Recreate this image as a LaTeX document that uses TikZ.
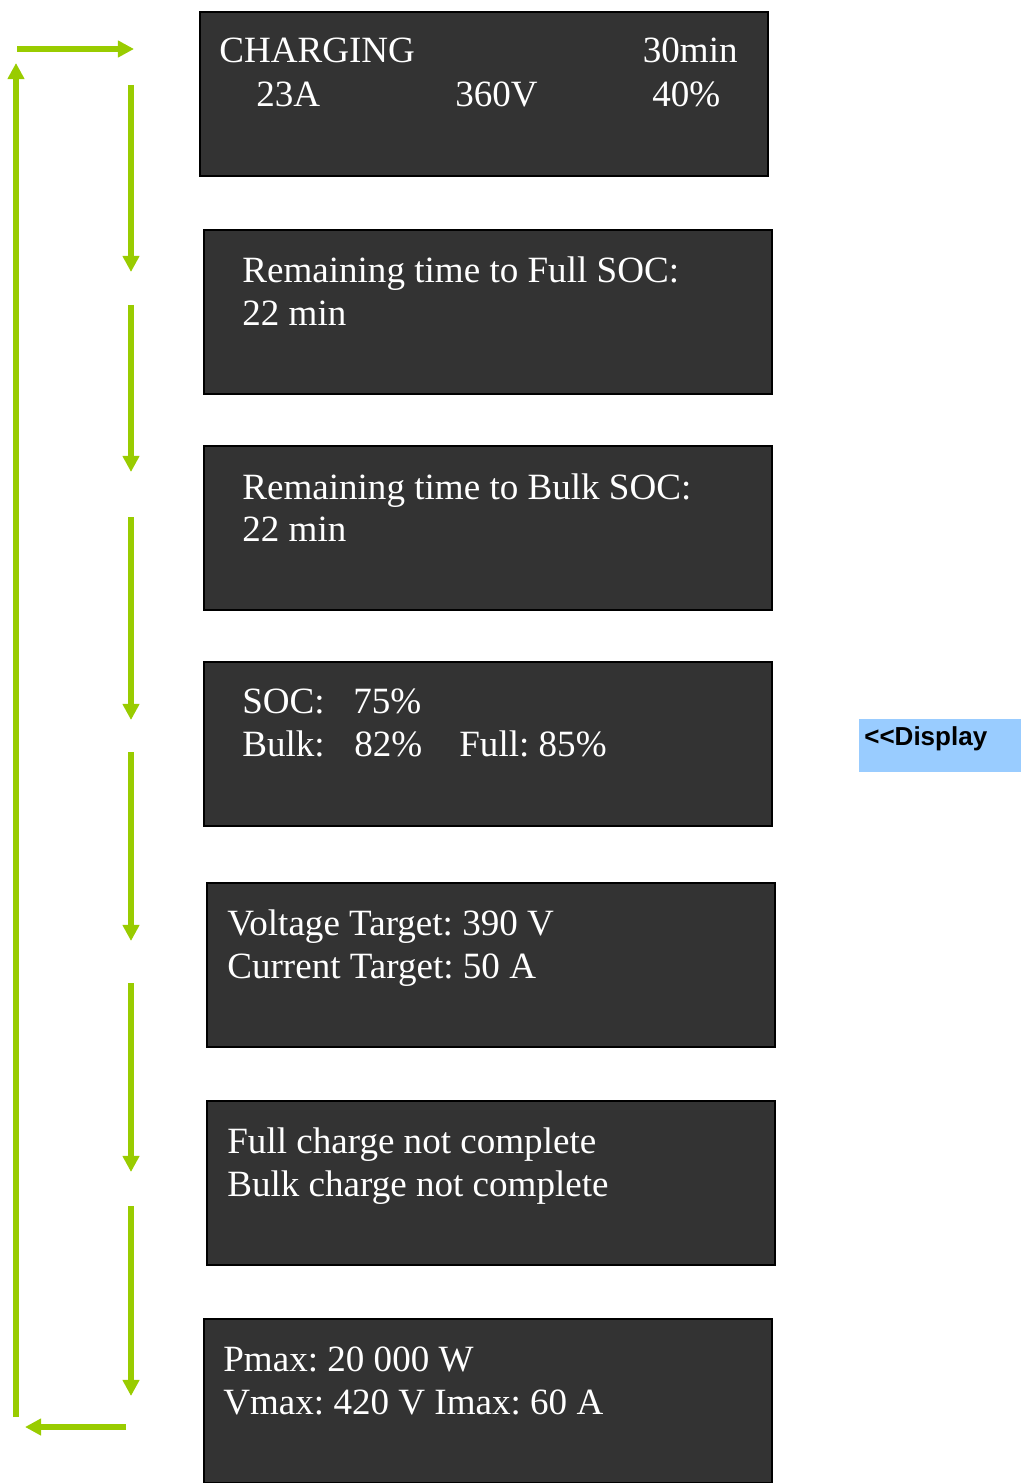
\documentclass[tikz,border=0pt]{standalone}
\usepackage{fontspec}
\setmainfont{Liberation Serif}
\newfontfamily\tagfont{Liberation Sans}
\usetikzlibrary{arrows.meta}
\definecolor{screengray}{HTML}{333333}
\definecolor{flowgreen}{HTML}{99CC00}
\definecolor{tagblue}{HTML}{99CCFF}
\frenchspacing

\begin{document}
\begin{tikzpicture}[x=0.02cm,y=-0.02cm,
    screen/.style={draw=black,line width=1.1pt,fill=screengray,anchor=north west,
      minimum width=11.36cm,minimum height=3.28cm,inner sep=0pt},
    lcd/.style={text=white,anchor=base west,inner sep=0pt,font=\fontsize{21.1}{25}\selectfont},
    flow/.style={flowgreen,line width=2.9pt,-{Triangle[length=9.2pt,width=9.2pt]}}]
  \useasboundingbox (0,0) rectangle (1025,1483);

  % display screens
  \node[screen] (s1) at (199,11) {};
  \node[screen] (s2) at (203,229) {};
  \node[screen] (s3) at (203,445) {};
  \node[screen] (s4) at (203,661) {};
  \node[screen] (s5) at (206,882) {};
  \node[screen] (s6) at (206,1100) {};
  \node[screen] (s7) at (203,1318) {};

  % screen 1
  \node[lcd] (chg) at (219,63) {CHARGING};
  \node[lcd,anchor=base east] (tmin) at (738,63) {30min};
  \node[lcd] (amp) at (256,107) {23A};
  \node[lcd] (volt) at (455,107) {360V};
  \node[lcd] (pct) at (652,107) {40\%};

  % screen 2
  \node[lcd] (full1) at (242,283) {Remaining time to Full SOC:};
  \node[lcd] (full2) at (242,325) {22 min};

  % screen 3
  \node[lcd] (bulk1) at (242,499) {Remaining time to Bulk SOC:};
  \node[lcd] (bulk2) at (242,541) {22 min};

  % screen 4
  \node[lcd] (soc) at (242,713) {SOC:};
  \node[lcd] (socv) at (353,713) {75\%};
  \node[lcd] (blk) at (242,756) {Bulk:};
  \node[lcd] (blkv) at (354,756) {82\%};
  \node[lcd] (fll) at (459,756) {Full: 85\%};

  % screen 5
  \node[lcd] (vt) at (227,935) {Voltage Target: 390 V};
  \node[lcd] (ct) at (227,978) {Current Target: 50 A};

  % screen 6
  \node[lcd] (fc) at (227,1153) {Full charge not complete};
  \node[lcd] (bc) at (227,1196) {Bulk charge not complete};

  % screen 7
  \node[lcd] (pmax) at (223,1371) {Pmax: 20 000 W};
  \node[lcd] (vimax) at (223,1414) {Vmax: 420 V Imax: 60 A};

  % label
  \node[fill=tagblue,anchor=north west,minimum width=3.24cm,minimum height=1.06cm,inner sep=0pt] (tag) at (859,719) {};
  \node[anchor=base west,inner sep=0pt,font=\tagfont\bfseries\fontsize{14.8}{17}\selectfont] (taglbl) at (864,745) {<\kern0pt<Display};

  % scroll arrows
  \foreach \a/\b [count=\i] in {85/272,305/472,517/720,752/941,983/1172,1206/1396} {
    \coordinate (t\i) at (131,\a);
    \coordinate (h\i) at (131,\b);
    \draw[flow] (t\i) -- (h\i);
  }

  % return loop
  \coordinate (r1) at (126,1427);
  \coordinate (r2) at (25,1427);
  \coordinate (r3) at (16,1417);
  \coordinate (r4) at (16,63);
  \coordinate (r5) at (17,49);
  \coordinate (r6) at (134,49);
  \draw[flow] (r1) -- (r2);
  \draw[flow] (r3) -- (r4);
  \draw[flow] (r5) -- (r6);
\end{tikzpicture}
\end{document}
